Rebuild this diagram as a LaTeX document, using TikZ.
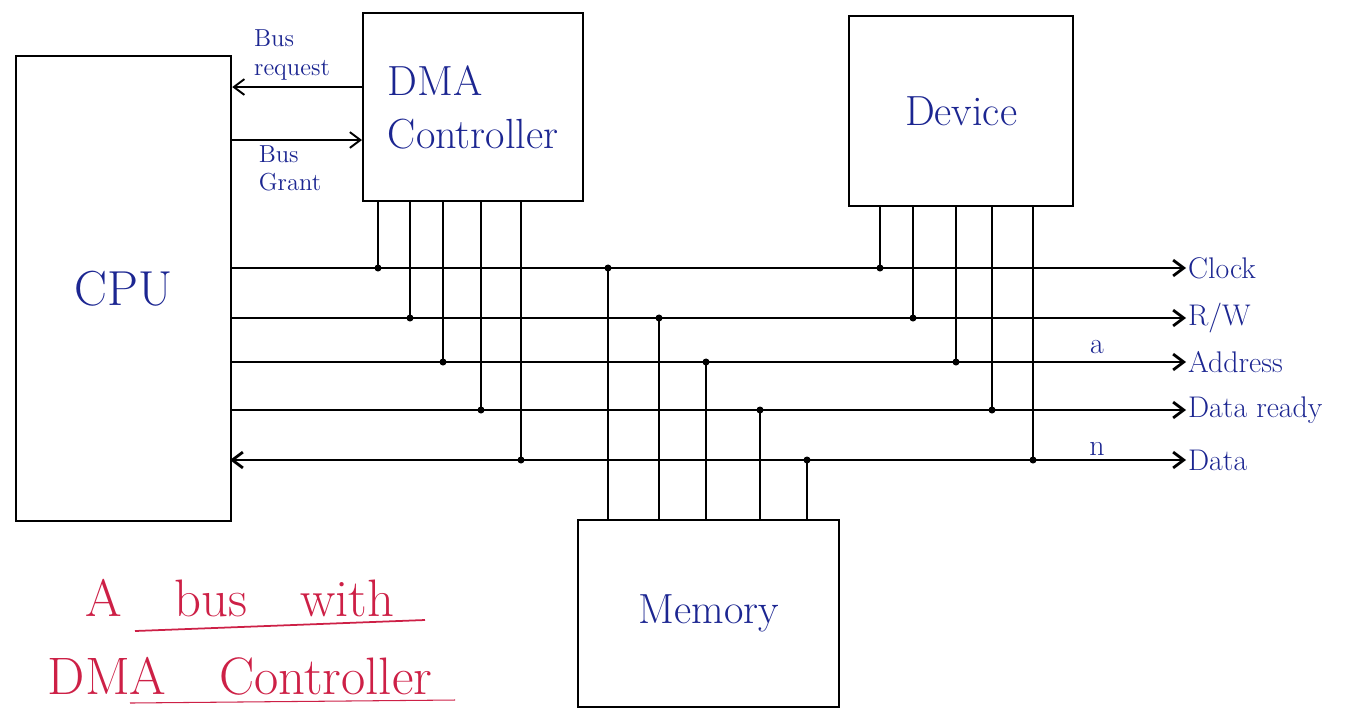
\documentclass[tikz,border=0pt]{standalone}
\usepackage{tikz}
\usetikzlibrary{arrows.meta,positioning}
\definecolor{InkBlue}{RGB}{28,38,145}
\definecolor{InkRed}{RGB}{205,32,70}

\begin{document}
\begin{tikzpicture}[x=0.02cm,y=-0.02cm,
  unit/.style={draw,line width=1.3pt,anchor=north west,inner sep=0pt,text=InkBlue,font=\fontsize{24}{30}\selectfont},
  bus/.style={line width=1.6pt},
  tap/.style={line width=1.1pt},
  dot/.style={circle,fill,inner sep=0pt,minimum size=4pt},
  lbl/.style={text=InkBlue,inner sep=1pt,font=\fontsize{17}{19}\selectfont},
  sig/.style={text=InkBlue,inner sep=0pt,align=left,font=\fontsize{14}{16}\selectfont},
  tip/.style={-{Straight Barb[length=6pt,width=9pt]}}]
\useasboundingbox (0,0) rectangle (1351,708);
% units
\node[unit,minimum width=4.3cm,minimum height=9.3cm,font=\fontsize{28}{32}\selectfont] (cpu) at (15,55) {CPU};
\node[unit,minimum width=4.4cm,minimum height=3.76cm,align=left] (dma) at (362,12) {DMA\\Controller};
\node[unit,minimum width=4.48cm,minimum height=3.8cm] (dev) at (848,15) {Device};
\node[unit,minimum width=5.22cm,minimum height=3.74cm] (mem) at (577,519) {Memory};
% bus request / grant
\coordinate (rq) at (dma.west |- 0,87);
\coordinate (gt) at (dma.west |- 0,140);
\draw[tap,tip] (rq) -- (cpu.east |- rq);
\draw[tap,tip] (cpu.east |- gt) -- (gt);
\node[sig] (rqt) at (292,55) {Bus\\request};
\node[sig] (gtt) at (290,168) {Bus\\Grant};
% bus lines
\foreach \y/\n/\t in %
{268/clk/Clock,318/rw/{R/W},362/adr/Address,410/rdy/Data ready} {
   \coordinate (s\n) at (230,\y);
   \node[lbl,anchor=west] (\n) at (1186,\y) {\t};
   \draw[bus,tip] (s\n) -- (\n.west);
}
\coordinate (sdat) at (230,460);
\node[lbl,anchor=west] (dat) at (1186,460) {Data};
\draw[bus,{Straight Barb[length=6pt,width=9pt]}-{Straight Barb[length=6pt,width=9pt]}] (sdat) -- (dat.west);
\node[lbl] (wa) at (1097,347) {a};
\node[lbl] (wn) at (1097,449) {n};
% taps from DMA controller
\foreach \x/\n in %
{378/clk,410/rw,443/adr,481/rdy,521/dat} {
   \coordinate (dt\n) at (\x,200);
   \draw[tap] (dt\n) -- (dt\n |- s\n) node[dot]{};
}
% taps from device
\foreach \x/\n in %
{880/clk,913/rw,956/adr,992/rdy,1033/dat} {
   \coordinate (vt\n) at (\x,205);
   \draw[tap] (vt\n) -- (vt\n |- s\n) node[dot]{};
}
% taps to memory
\foreach \x/\n in %
{608/clk,659/rw,706/adr,760/rdy,807/dat} {
   \coordinate (mt\n) at (\x,519);
   \draw[tap] (mt\n) -- (mt\n |- s\n) node[dot]{};
}
% caption
\node[text=InkRed,font=\fontsize{30}{34}\selectfont] (cap1) at (240,598) {A\quad bus\quad with};
\node[text=InkRed,font=\fontsize{30}{34}\selectfont] (cap2) at (240,676) {DMA\quad Controller};
\draw[InkRed,line width=1pt] (135,631) -- (425,620);
\draw[InkRed,line width=0.6pt] (130,703) -- (455,700);
\end{tikzpicture}
\end{document}
